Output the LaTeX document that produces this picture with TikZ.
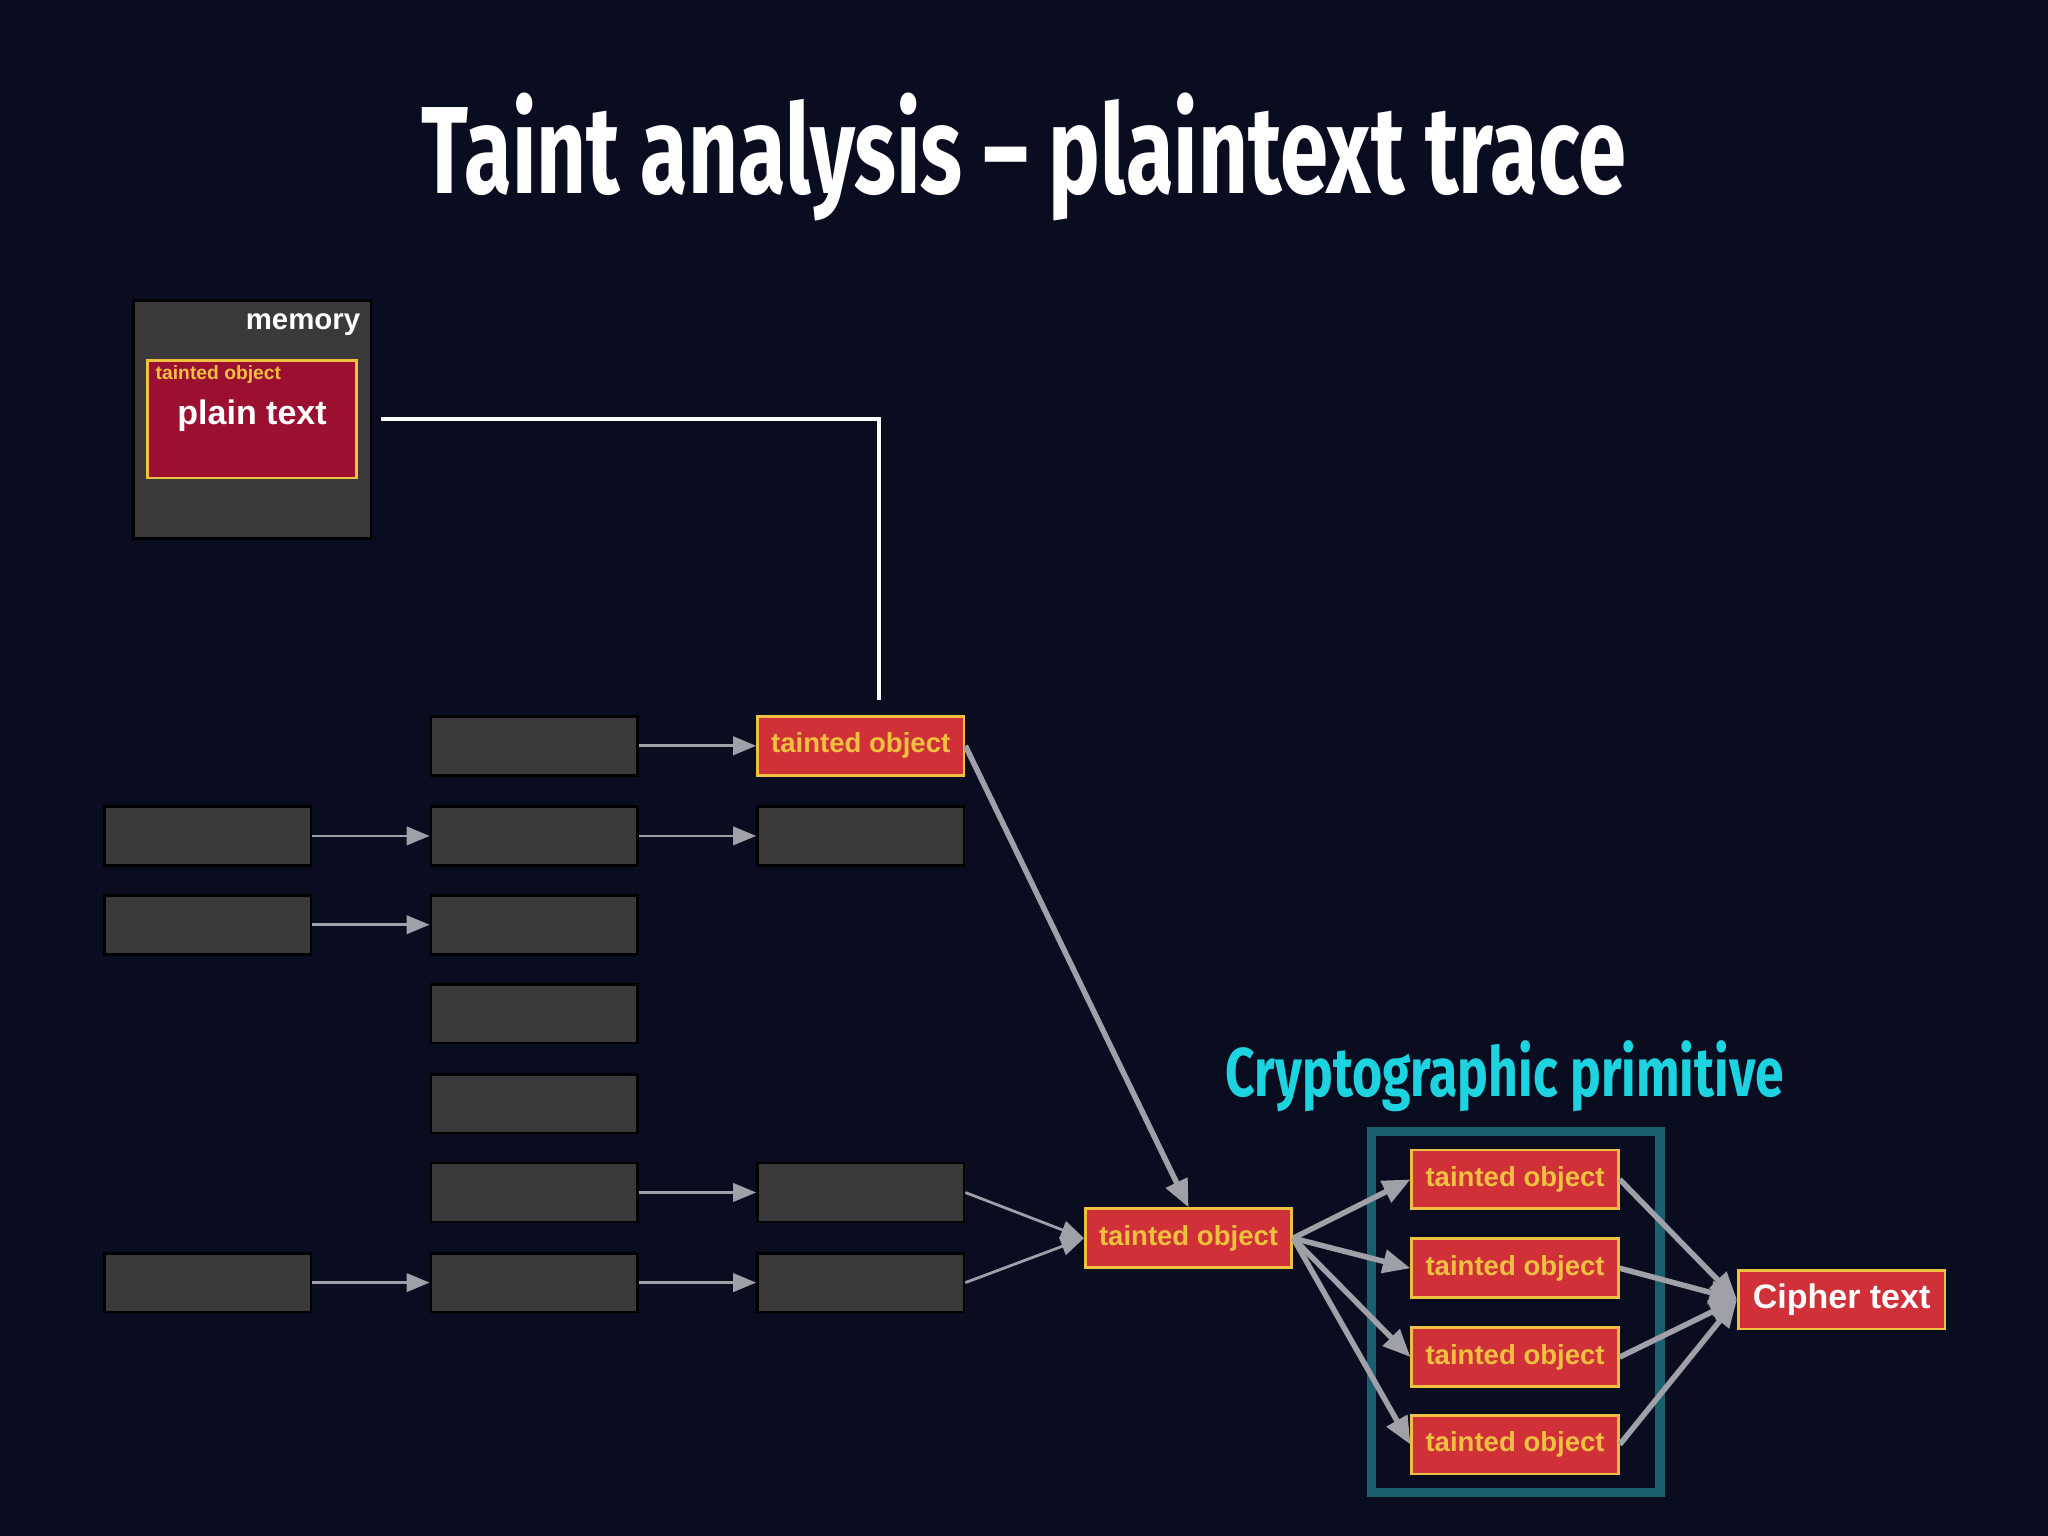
\documentclass[tikz,border=0pt]{standalone}
\usepackage{fontspec}
\setmainfont{Liberation Sans}
\newfontfamily\titlefont{Fira Sans}
\usetikzlibrary{positioning, arrows.meta}
\definecolor{bgcol}{HTML}{0A0C20}
\definecolor{boxgrey}{HTML}{3A3A3A}
\definecolor{taintred}{HTML}{D03038}
\definecolor{darkred}{HTML}{9B1030}
\definecolor{taintyellow}{HTML}{F0C040}
\definecolor{arrowgrey}{HTML}{A0A0A8}
\definecolor{cryptocyan}{HTML}{1ED3E0}
\definecolor{cryptoteal}{HTML}{1A5F6E}
\tikzset{
  obj/.style={draw=black, line width=0.6pt, fill=boxgrey, minimum width=1.58cm, minimum height=0.45cm, inner sep=0pt},
  taint/.style={obj, draw=taintyellow, fill=taintred, text=taintyellow, font=\bfseries\fontsize{6}{7}\selectfont},
  flow/.style={-{Triangle[length=5pt,width=4pt]}, arrowgrey, line width=0.6pt},
  bigflow/.style={-{Triangle[length=6pt,width=5pt]}, arrowgrey, line width=1.2pt}
}
\begin{document}
\begin{tikzpicture}[x=0.01cm, y=-0.01cm]
   \fill[bgcol] (0,0) rectangle (1568,1176);
   \useasboundingbox (0,0) rectangle (1568,1176);

   \node[white, font=\titlefont\bfseries\fontsize{27}{32}\selectfont, xscale=0.7] (title) at (784,120) {Taint analysis – plaintext trace};

   % memory
   \node[obj, minimum width=1.82cm, minimum height=1.82cm] (mem) at (193,321) {};
   \node[white, font=\bfseries\fontsize{6.4}{7}\selectfont, anchor=north east, inner sep=1pt] (memlbl) at (280,236) {memory};
   \node[obj, draw=taintyellow, fill=darkred, minimum width=1.6cm, minimum height=0.9cm] (plain) at (193,321) {};
   \node[taintyellow, font=\bfseries\fontsize{4.2}{5}\selectfont, anchor=north west, inner sep=1pt] (plainlbl) at (115,276) {tainted object};
   \node[white, font=\bfseries\fontsize{7.4}{9}\selectfont] (plaintxt) at (193,318) {plain text};

   % column one
   \node[obj] (a2) at (159,640) {};
   \node[obj] (a3) at (159,708) {};
   \node[obj] (a7) at (159,982) {};
   % column two
   \foreach \y [count=\i] in {571,640,708,776,845,913,982}
      \node[obj] (b\i) at (409,\y) {};
   % column three
   \node[taint] (c1) at (659,571) {tainted object};
   \node[obj] (c2) at (659,640) {};
   \node[obj] (c6) at (659,913) {};
   \node[obj] (c7) at (659,982) {};

   \node[taint] (mid) at (910,948) {tainted object};

   % crypto primitive
   \draw[cryptoteal, line width=2pt] (1050,866) rectangle (1271,1143);
   \node[cryptocyan, font=\titlefont\bfseries\fontsize{15}{18}\selectfont, xscale=0.75] (cryptolbl) at (1152,824) {Cryptographic primitive};
   \foreach \y [count=\i] in {903,971,1039,1106}
      \node[taint] (t\i) at (1160,\y) {tainted object};
   \node[taint, text=white, font=\bfseries\fontsize{7.4}{9}\selectfont] (cipher) at (1410,995) {Cipher text};

   \draw[white, line width=0.9pt] (292,321) -| (673,536);

   \draw[flow] (a2) -- (b2);
   \draw[flow] (a3) -- (b3);
   \draw[flow] (a7) -- (b7);
   \draw[flow] (b1) -- (c1);
   \draw[flow] (b2) -- (c2);
   \draw[flow] (b6) -- (c6);
   \draw[flow] (b7) -- (c7);
   \draw[bigflow] (c1.east) -- (mid.north);
   \draw[flow] (c6.east) -- (mid.west);
   \draw[flow] (c7.east) -- (mid.west);
   \foreach \i in {1,...,4} {
      \draw[bigflow] (mid.east) -- (t\i.west);
      \draw[bigflow] (t\i.east) -- (cipher.west);
   }
\end{tikzpicture}
\end{document}
